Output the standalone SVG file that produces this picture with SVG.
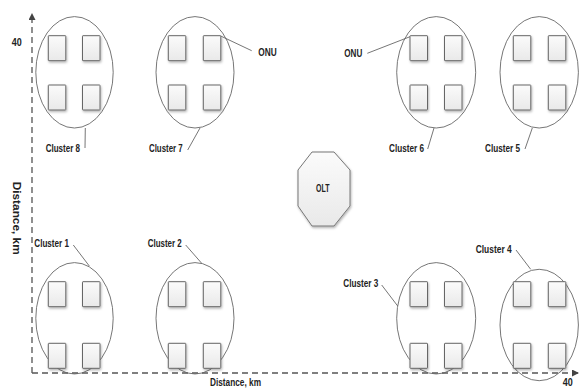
<svg xmlns="http://www.w3.org/2000/svg" width="580" height="392" viewBox="0 0 580 392">
<defs>
<linearGradient id="bg" x1="0" y1="0" x2="0" y2="1">
<stop offset="0" stop-color="#fbfbfb"/>
<stop offset="1" stop-color="#e9e9e9"/>
</linearGradient>
<filter id="sh" x="-30%" y="-30%" width="160%" height="160%">
<feDropShadow dx="0.8" dy="1.5" stdDeviation="0.8" flood-color="#000" flood-opacity="0.3"/>
</filter>
<marker id="arr" viewBox="0 0 10 10" refX="10" refY="5" markerWidth="7" markerHeight="7" markerUnits="userSpaceOnUse" orient="auto">
<path d="M0,0 L10,5 L0,10 z" fill="#444"/>
</marker>
<rect id="onu" width="17.5" height="25" rx="0.5" fill="url(#bg)" stroke="#666" stroke-width="1" filter="url(#sh)"/>
</defs>
<style>
.ax{stroke:#555;stroke-width:1.3;stroke-dasharray:6,4;fill:none}
.ell{fill:none;stroke:#666;stroke-width:0.9}
.ln{stroke:#666;stroke-width:0.9;fill:none}
text{font-family:"Liberation Sans",Arial,sans-serif;font-weight:bold;font-size:10.5px;fill:#222}
.olt{fill:url(#bg);stroke:#777;stroke-width:1;filter:url(#sh)}
</style>
<rect width="580" height="392" fill="#fff"/>
<g id="axes">
<line class="ax" x1="32" y1="373" x2="32" y2="13" marker-end="url(#arr)"/>
<line class="ax" x1="32" y1="373" x2="579" y2="373" marker-end="url(#arr)"/>
<text x="11.7" y="46" textLength="10" lengthAdjust="spacingAndGlyphs">40</text>
<text x="562.7" y="385.5" textLength="10" lengthAdjust="spacingAndGlyphs">40</text>
<text x="210" y="385.5" textLength="51" lengthAdjust="spacingAndGlyphs">Distance, km</text>
<text transform="translate(12.5,181.7) rotate(90)" x="0" y="0" textLength="73" lengthAdjust="spacingAndGlyphs">Distance, km</text>
</g>
<g id="cluster8">
<ellipse class="ell" cx="74.5" cy="72.3" rx="38.7" ry="55.7"/>
<g class="box"><use href="#onu" x="48.3" y="35.7"/><use href="#onu" x="82.5" y="35.7"/><use href="#onu" x="48.3" y="85"/><use href="#onu" x="82.5" y="85"/></g>
<text x="45.7" y="152" textLength="34.3" lengthAdjust="spacingAndGlyphs">Cluster 8</text>
</g>
<g id="cluster7">
<ellipse class="ell" cx="195" cy="72.3" rx="39" ry="55.7"/>
<g class="box"><use href="#onu" x="168.3" y="35.7"/><use href="#onu" x="203.3" y="35.7"/><use href="#onu" x="168.3" y="85"/><use href="#onu" x="203.3" y="85"/></g>
<text x="149" y="152" textLength="33.7" lengthAdjust="spacingAndGlyphs">Cluster 7</text>
<text x="258.3" y="55.5" textLength="18.4" lengthAdjust="spacingAndGlyphs">ONU</text>
</g>
<g id="cluster6">
<ellipse class="ell" cx="436.2" cy="72.3" rx="39.5" ry="55.7"/>
<g class="box"><use href="#onu" x="410" y="35.7"/><use href="#onu" x="444.5" y="35.7"/><use href="#onu" x="410" y="85"/><use href="#onu" x="444.5" y="85"/></g>
<text x="389" y="152" textLength="35" lengthAdjust="spacingAndGlyphs">Cluster 6</text>
<text x="344.3" y="56.5" textLength="18" lengthAdjust="spacingAndGlyphs">ONU</text>
</g>
<g id="cluster5">
<ellipse class="ell" cx="539.2" cy="72.3" rx="39.2" ry="55.7"/>
<g class="box"><use href="#onu" x="513.3" y="35.7"/><use href="#onu" x="548.3" y="35.7"/><use href="#onu" x="513.3" y="85"/><use href="#onu" x="548.3" y="85"/></g>
<text x="485" y="152" textLength="35" lengthAdjust="spacingAndGlyphs">Cluster 5</text>
</g>
<g id="olt">
<polygon class="olt" points="312,152 334,152 350,170 350,206 334,226 312,226 298,206 298,170"/>
<text x="316" y="192" textLength="13.5" lengthAdjust="spacingAndGlyphs">OLT</text>
</g>
<g id="cluster1">
<ellipse class="ell" cx="74.5" cy="318.3" rx="38.7" ry="55.7"/>
<g class="box"><use href="#onu" x="48.3" y="281.7"/><use href="#onu" x="82.5" y="281.7"/><use href="#onu" x="48.3" y="343.3"/><use href="#onu" x="82.5" y="343.3"/></g>
<text x="34.3" y="246.5" textLength="34.7" lengthAdjust="spacingAndGlyphs">Cluster 1</text>
</g>
<g id="cluster2">
<ellipse class="ell" cx="195" cy="318.3" rx="39" ry="55.7"/>
<g class="box"><use href="#onu" x="168.3" y="281.7"/><use href="#onu" x="203.3" y="281.7"/><use href="#onu" x="168.3" y="343.3"/><use href="#onu" x="203.3" y="343.3"/></g>
<text x="147.7" y="246.5" textLength="34" lengthAdjust="spacingAndGlyphs">Cluster 2</text>
</g>
<g id="cluster3">
<ellipse class="ell" cx="436.2" cy="318.3" rx="39.5" ry="55.7"/>
<g class="box"><use href="#onu" x="410" y="281.7"/><use href="#onu" x="444.5" y="281.7"/><use href="#onu" x="410" y="343.3"/><use href="#onu" x="444.5" y="343.3"/></g>
<text x="343.3" y="287" textLength="35" lengthAdjust="spacingAndGlyphs">Cluster 3</text>
</g>
<g id="cluster4">
<ellipse class="ell" cx="539.2" cy="325" rx="39.2" ry="55.7"/>
<g class="box"><use href="#onu" x="513.3" y="281.7"/><use href="#onu" x="548.3" y="281.7"/><use href="#onu" x="513.3" y="343.3"/><use href="#onu" x="548.3" y="343.3"/></g>
<text x="475.7" y="253" textLength="36" lengthAdjust="spacingAndGlyphs">Cluster 4</text>
</g>
<g id="connectors">
<line class="ln" x1="85.3" y1="128" x2="85" y2="148"/>
<line class="ln" x1="200" y1="128" x2="187.7" y2="150"/>
<line class="ln" x1="220.7" y1="36" x2="251.7" y2="50.7"/>
<line class="ln" x1="367.3" y1="53.3" x2="410" y2="36.7"/>
<line class="ln" x1="434" y1="128" x2="427.7" y2="149"/>
<line class="ln" x1="532.3" y1="128" x2="525" y2="149"/>
<line class="ln" x1="73.3" y1="245" x2="89.3" y2="266"/>
<line class="ln" x1="185.7" y1="245" x2="201.7" y2="263.3"/>
<line class="ln" x1="381.7" y1="285" x2="397.7" y2="306"/>
<line class="ln" x1="516" y1="250" x2="530.7" y2="269.3"/>
</g>
</svg>
